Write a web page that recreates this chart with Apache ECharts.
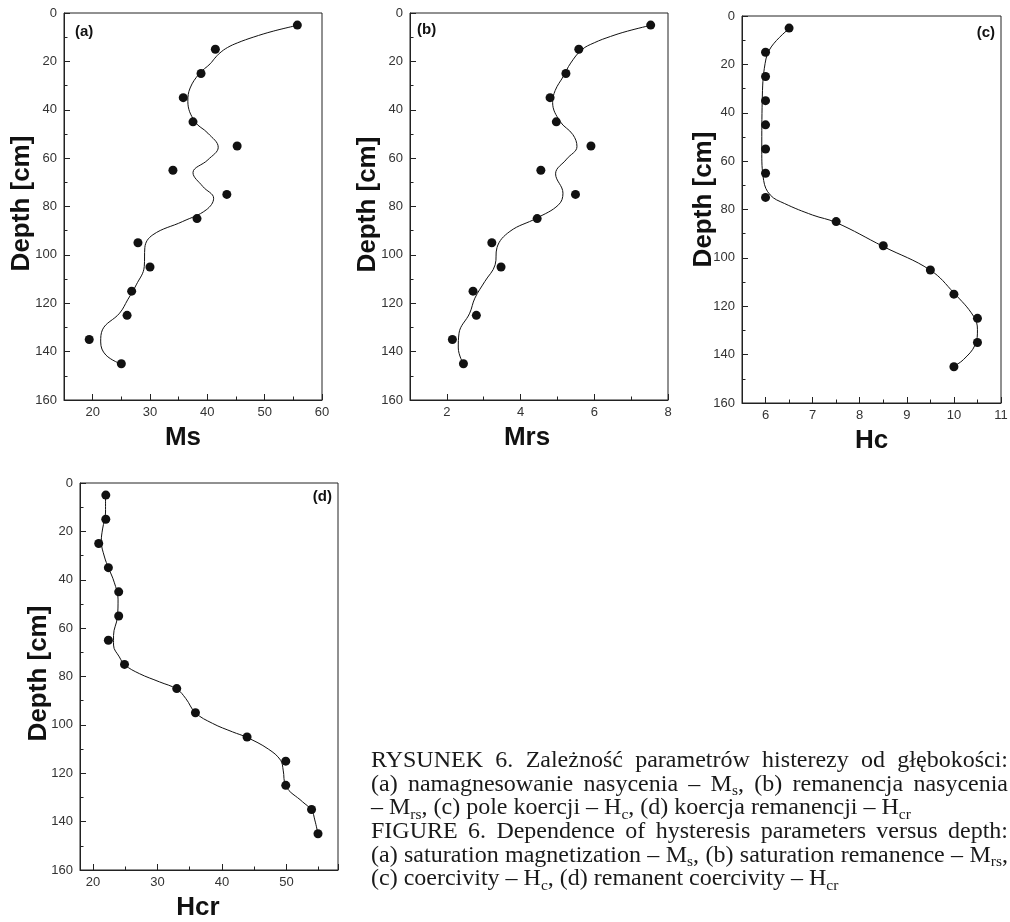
<!DOCTYPE html>
<html><head><meta charset="utf-8">
<script src="https://cdn.jsdelivr.net/npm/echarts@6/dist/echarts.min.js"></script>
<style>html,body{margin:0;padding:0;background:#fff}#chart{width:1010px;height:922px}</style>
</head><body><div id="chart"></div>
<script>
// ---------- data ----------
const depths = [5, 15, 25, 35, 45, 55, 65, 75, 85, 95, 105, 115, 125, 135, 145];
const msValues  = [55.7, 41.4, 38.9, 35.8, 37.5, 45.2, 34.0, 43.4, 38.2, 27.9, 30.0, 26.8, 26.0, 19.4, 25.0];
const mrsValues = [7.53, 5.58, 5.23, 4.80, 4.97, 5.91, 4.55, 5.49, 4.45, 3.22, 3.47, 2.71, 2.80, 2.15, 2.45];
const hcValues  = [6.5, 6.0, 6.0, 6.0, 6.0, 6.0, 6.0, 6.0, 7.5, 8.5, 9.5, 10.0, 10.5, 10.5, 10.0];
const hcrValues = [22.0, 22.0, 20.9, 22.4, 24.0, 24.0, 22.4, 24.9, 33.0, 35.9, 43.9, 49.9, 49.9, 53.9, 54.9];

// fitted curves: depth and value
const msCurveDepth = [5.1, 7.5, 10.0, 12.3, 14.3, 16.5, 18.7, 21.0, 25.1, 31.0, 36.5, 44.8, 49.7, 55.5, 60.7, 66.0, 71.7, 76.6, 81.4, 86.2, 91.7, 97.0, 104.8, 112.4, 118.6, 124.1, 131.0, 136.0, 141.4, 145.2];
const msCurveValue = [55.7, 51.5, 48.0, 45.3, 43.5, 42.2, 41.3, 40.5, 38.6, 37.0, 36.6, 37.8, 40.1, 41.9, 40.1, 37.5, 39.2, 41.1, 39.8, 35.7, 30.5, 29.1, 29.0, 27.6, 26.1, 24.7, 21.7, 21.4, 22.3, 25.0];

const mrsCurveDepth = [5.1, 7.5, 9.7, 12.3, 15.2, 20.7, 26.2, 32.0, 37.0, 44.8, 50.3, 55.2, 60.4, 66.5, 74.5, 79.3, 84.8, 90.3, 97.0, 104.1, 111.0, 117.9, 124.1, 132.4, 138.5, 145.2];
const mrsCurveValue = [7.53, 6.90, 6.44, 6.00, 5.66, 5.36, 5.16, 4.94, 4.87, 5.07, 5.42, 5.53, 5.25, 4.95, 5.15, 5.03, 4.44, 3.71, 3.36, 3.31, 3.03, 2.76, 2.62, 2.33, 2.31, 2.45];

const hcCurveDepth = [5.2, 12.8, 19.7, 34.8, 55.4, 68.0, 74.0, 77.5, 82.3, 85.4, 95.3, 105.1, 114.5, 124.2, 129.7, 136.0, 142.1, 144.8];
const hcCurveValue = [6.50, 6.12, 5.99, 5.93, 5.92, 5.96, 6.10, 6.40, 7.00, 7.50, 8.50, 9.50, 10.00, 10.42, 10.50, 10.45, 10.20, 10.00];

const hcrCurveDepth = [5.1, 12.0, 19.0, 24.0, 30.6, 35.1, 41.0, 48.0, 55.4, 63.0, 67.0, 71.9, 75.2, 78.8, 82.2, 85.2, 89.1, 95.0, 99.4, 102.9, 105.2, 110.0, 114.6, 118.7, 125.2, 131.8, 135.2, 139.3, 145.1];
const hcrCurveValue = [21.96, 21.96, 21.5, 21.3, 21.8, 22.42, 23.3, 23.9, 23.8, 23.2, 23.2, 24.1, 24.95, 27.2, 30.3, 33.0, 34.4, 35.9, 38.56, 41.65, 43.9, 47.2, 49.1, 49.5, 49.9, 52.5, 53.9, 54.4, 54.9];

const xNames = ['Ms', 'Mrs', 'Hc', 'Hcr'];
const panelLabels = ['(a)', '(b)', '(c)', '(d)'];
const yName = 'Depth [cm]';
const yTicks = [0, 160, 20];

const captionLines = [
  'RYSUNEK 6. Zależność parametrów histerezy od głębokości:',
  '(a) namagnesowanie nasycenia – M_{s}, (b) remanencja nasycenia',
  '– M_{rs}, (c) pole koercji – H_{c}, (d) koercja remanencji – H_{cr}',
  'FIGURE 6. Dependence of hysteresis parameters versus depth:',
  '(a) saturation magnetization – M_{s}, (b) saturation remanence – M_{rs},',
  '(c) coercivity – H_{c}, (d) remanent coercivity – H_{cr}'
];
const captionJustify = [true, true, false, true, true, false];

// ---------- layout ----------
const SANS = '"Liberation Sans", Arial, sans-serif';
const SERIF = '"Liberation Serif", "Times New Roman", serif';
const INK = '#1a1a1a';
const grids = [
  {left: 64, top: 13, width: 258, height: 387},
  {left: 410, top: 13, width: 258, height: 387},
  {left: 742, top: 16, width: 259, height: 387},
  {left: 80, top: 483, width: 258, height: 387}
];
const xCfg = [
  {min: 15, max: 60, step: 10, showMax: true, shift: -10},
  {min: 1, max: 8, step: 2, showMax: true, shift: -12},
  {min: 5.5, max: 11, step: 1, showMax: true, shift: 0},
  {min: 18, max: 58, step: 10, showMax: false, shift: -11}
];
const yGap = [29, 29, 25, 28];
const yShiftUp = [3, 2, 10, 3];

function pairs(xs, ys) { return xs.map((v, i) => [v, ys[i]]); }
const scatterData = [msValues, mrsValues, hcValues, hcrValues].map(v => pairs(v, depths));
const curveData = [
  pairs(msCurveValue, msCurveDepth), pairs(mrsCurveValue, mrsCurveDepth),
  pairs(hcCurveValue, hcCurveDepth), pairs(hcrCurveValue, hcrCurveDepth)
];

const axisLineStyle = {color: '#222', width: 1};
const xAxes = xCfg.map((c, i) => ({
  type: 'value', gridIndex: i, min: c.min, max: c.max,
  minInterval: c.step, maxInterval: c.step,
  name: xNames[i], nameLocation: 'middle', nameGap: 25, nameMoveOverlap: false,
  nameTextStyle: {fontFamily: SANS, fontWeight: 'bold', fontSize: 26, color: '#111',
    padding: c.shift < 0 ? [0, -2 * c.shift, 0, 0] : 0},
  axisLine: {show: true, onZero: false, lineStyle: axisLineStyle},
  axisTick: {show: true, inside: true, length: 6, lineStyle: axisLineStyle},
  minorTick: {show: true, splitNumber: 2, length: 3.5, lineStyle: axisLineStyle},
  splitLine: {show: false}, minorSplitLine: {show: false},
  axisLabel: {fontFamily: SANS, fontSize: 13, color: '#333', margin: 6,
    showMinLabel: false, showMaxLabel: c.showMax}
}));
const yAxes = grids.map((g, i) => ({
  type: 'value', gridIndex: i, inverse: true, min: yTicks[0], max: yTicks[1], interval: yTicks[2],
  name: yName, nameLocation: 'middle', nameRotate: 90, nameGap: yGap[i], nameMoveOverlap: false,
  nameTextStyle: {fontFamily: SANS, fontWeight: 'bold', fontSize: 26, color: '#111',
    padding: [0, 0, 0, 2 * yShiftUp[i]]},
  axisLine: {show: true, onZero: false, lineStyle: axisLineStyle},
  axisTick: {show: true, inside: true, length: 6, lineStyle: axisLineStyle},
  minorTick: {show: true, splitNumber: 2, length: 3.5, lineStyle: axisLineStyle},
  splitLine: {show: false}, minorSplitLine: {show: false},
  axisLabel: {fontFamily: SANS, fontSize: 13, color: '#333', margin: 7}
}));

const series = [];
for (let i = 0; i < 4; i++) {
  series.push({type: 'line', xAxisIndex: i, yAxisIndex: i, data: curveData[i], symbol: 'none',
    smooth: 0.4, lineStyle: {color: '#111', width: 1}, z: 2, silent: true});
  series.push({type: 'scatter', xAxisIndex: i, yAxisIndex: i, data: scatterData[i], symbol: 'circle',
    symbolSize: 9, itemStyle: {color: '#111', opacity: 1}, z: 3, silent: true});
}

// ---------- graphics: panel labels + caption ----------
const elements = [];
const labelPos = [
  {x: 75, y: 32, align: 'left'}, {x: 417, y: 30, align: 'left'},
  {x: 995, y: 33, align: 'right'}, {x: 332, y: 497, align: 'right'}
];
labelPos.forEach((p, i) => elements.push({type: 'text', x: p.x, y: p.y, silent: true,
  style: {text: panelLabels[i], font: 'bold 15px ' + SANS, fill: '#111', align: p.align, verticalAlign: 'middle'}}));

const ctx = document.createElement('canvas').getContext('2d');
function tw(s, f) { ctx.font = f; return ctx.measureText(s).width; }
const FS = 24, SUBFS = 15.5;
const capFont = FS + 'px ' + SERIF, subFont = SUBFS + 'px ' + SERIF;
const capLeft = 371, capRight = 1008, capBase0 = 769, capStep = 23.6;
function parseWord(w) {
  const segs = []; const re = /_\{([^}]*)\}/g; let last = 0, m;
  while ((m = re.exec(w))) {
    if (m.index > last) segs.push({t: w.slice(last, m.index), sub: false});
    segs.push({t: m[1], sub: true}); last = re.lastIndex;
  }
  if (last < w.length) segs.push({t: w.slice(last), sub: false});
  segs.forEach(s => s.w = tw(s.t, s.sub ? subFont : capFont));
  return segs;
}
captionLines.forEach((line, li) => {
  const words = line.split(' ').map(parseWord);
  const widths = words.map(ws => ws.reduce((a, s) => a + s.w, 0));
  const total = widths.reduce((a, b) => a + b, 0);
  const gap = captionJustify[li] ? (capRight - capLeft - total) / (words.length - 1) : tw(' ', capFont);
  const base = capBase0 + li * capStep;
  let x = capLeft;
  words.forEach((ws, wi) => {
    ws.forEach(s => {
      const b = s.sub ? base + 4 : base;
      const f = s.sub ? subFont : capFont;
      const fs = s.sub ? SUBFS : FS;
      elements.push({type: 'text', x: x, y: b - 0.3375 * fs, silent: true,
        style: {text: s.t, font: f, fill: INK, align: 'left', verticalAlign: 'middle'}});
      x += s.w;
    });
    x += gap;
  });
});

const option = {
  animation: false,
  backgroundColor: '#fff',
  grid: grids.map(g => Object.assign({show: true, borderColor: '#222', borderWidth: 1,
    backgroundColor: 'transparent', containLabel: false, outerBoundsMode: 'none'}, g)),
  xAxis: xAxes, yAxis: yAxes, series: series,
  graphic: {elements: elements}
};
const chart = echarts.init(document.getElementById('chart'), null, {renderer: 'canvas'});
chart.setOption(option);
</script></body></html>
